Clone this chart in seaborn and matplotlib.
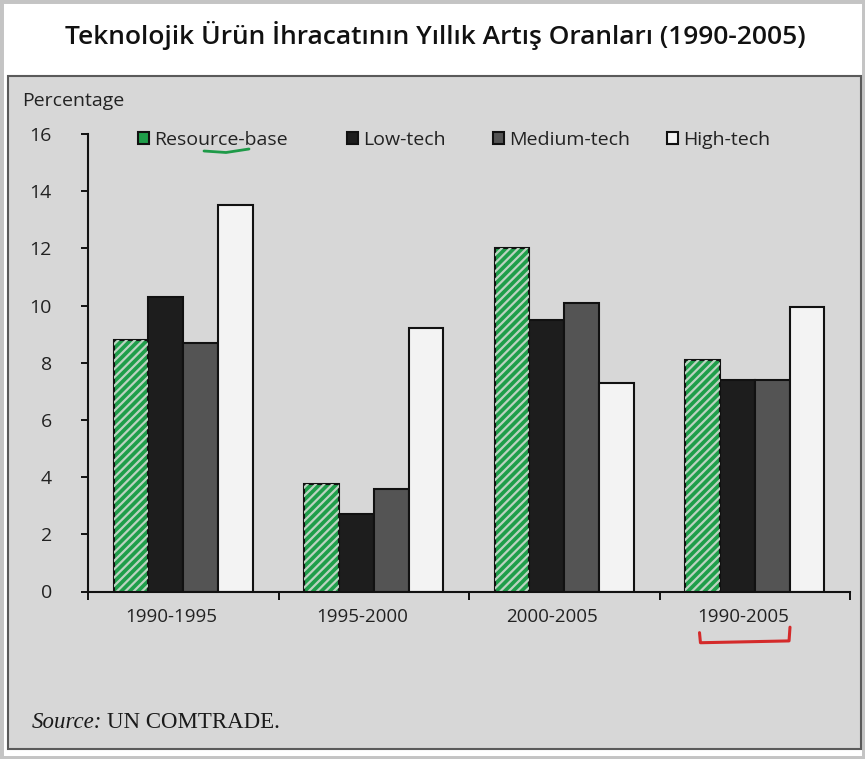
import matplotlib
matplotlib.use("Agg")
import matplotlib.pyplot as plt
from matplotlib.patches import Rectangle
from matplotlib.lines import Line2D
from matplotlib.legend import Legend
from matplotlib.transforms import ScaledTranslation, blended_transform_factory
import seaborn as sns
import pandas as pd

# Average annual growth of exports by technology class (%)
periods = ["1990-1995", "1995-2000", "2000-2005", "1990-2005"]
categories = ["Resource-base", "Low-tech", "Medium-tech", "High-tech"]
resource_base = [8.8, 3.75, 12.0, 8.1]
low_tech = [10.3, 2.7, 9.5, 7.4]
medium_tech = [8.7, 3.6, 10.1, 7.4]
high_tech = [13.5, 9.2, 7.3, 9.95]
y_ticks = [0, 2, 4, 6, 8, 10, 12, 14, 16]

title = "Teknolojik Ürün İhracatının Yıllık Artış Oranları (1990-2005)"

series = [resource_base, low_tech, medium_tech, high_tech]
df = pd.DataFrame(
    [(p, c, v) for c, vals in zip(categories, series) for p, v in zip(periods, vals)],
    columns=["period", "type", "value"],
)

sns.set_theme(style="white")
plt.rcParams["font.family"] = ["Open Sans", "DejaVu Sans"]
plt.rcParams["hatch.linewidth"] = 1.6

W, H = 865, 759
fig = plt.figure(figsize=(W / 100, H / 100), dpi=100, facecolor="white")

# card shadow around the page and the grey scanned panel
fig.patches.append(Rectangle((0, 0), 1, 1, transform=fig.transFigure, fill=False,
                             edgecolor="#c4c4c4", linewidth=5, zorder=-2))
fig.patches.append(Rectangle((8 / W, 1 - 749 / H), (861 - 8) / W, (749 - 76) / H,
                             transform=fig.transFigure, facecolor="#d7d7d7",
                             edgecolor="#5a5a5a", linewidth=1.5, zorder=-1))

ax = fig.add_axes([88 / W, 167.5 / H, (850 - 88) / W, (591.5 - 134) / H])
ax.set_facecolor("none")

palette = {"Resource-base": "#1f9e4a", "Low-tech": "#1d1d1d",
           "Medium-tech": "#545454", "High-tech": "#f3f3f3"}
sns.barplot(data=df, x="period", y="value", hue="type", order=periods,
            hue_order=categories, palette=palette, width=0.73, gap=0,
            edgecolor="#111111", linewidth=1.5, saturation=1, legend=False, ax=ax)

# pen-scribble look on the resource-based bars
for bar in ax.containers[0]:
    ax.add_patch(Rectangle(bar.get_xy(), bar.get_width(), bar.get_height(),
                           fill=False, hatch="////", edgecolor="#bcd3c1",
                           linewidth=0, zorder=bar.get_zorder() + 0.1))

ax.set_xlim(-0.5, 3.5)
ax.set_ylim(0, 16)
ax.set_yticks(y_ticks)
ax.set_xlabel("")
ax.set_ylabel("")
for s in ["top", "right"]:
    ax.spines[s].set_visible(False)
for s in ["left", "bottom"]:
    ax.spines[s].set_linewidth(1.5)
    ax.spines[s].set_color("#111111")

ax.tick_params(axis="y", direction="out", length=5, width=1.4, color="#111111",
               pad=21, labelsize=14, labelcolor="#222222", left=True)
ax.tick_params(axis="x", which="major", length=0, pad=12, labelsize=13.5,
               labelcolor="#222222")
ax.set_xticks([-0.5, 0.5, 1.5, 2.5, 3.5], minor=True)
ax.tick_params(axis="x", which="minor", direction="out", length=6, width=1.4,
               color="#111111", bottom=True)
for lbl in ax.get_xticklabels():
    lbl.set_transform(lbl.get_transform() + ScaledTranslation(-0.12, 0, fig.dpi_scale_trans))

# legend entries spread across the top of the plot
handles = [c.patches[0] for c in ax.containers[:4]]
legend_left = [138, 347, 493, 667]
for h, name, xl in zip(handles, categories, legend_left):
    leg = Legend(ax, [h], [name], loc="center left",
                 bbox_to_anchor=((xl - 88) / 762, (591.5 - 140) / 457.5),
                 frameon=False, fontsize=14, handlelength=0.55, handleheight=0.55,
                 handletextpad=0.3, borderpad=0, borderaxespad=0,
                 labelcolor="#222222")
    ax.add_artist(leg)

# hand-drawn marks on the page
fig.add_artist(Line2D([204 / W, 226 / W, 249 / W], [1 - 151 / H, 1 - 152.5 / H, 1 - 149 / H],
                      color="#1e9a48", linewidth=2, transform=fig.transFigure))
bt = blended_transform_factory(ax.transData, ax.transAxes)
ax.add_line(Line2D([2.71, 2.715, 3.18, 3.185], [-0.09, -0.112, -0.108, -0.078],
                   color="#d42a2a", linewidth=2.2, transform=bt, clip_on=False))

fig.text(22 / W, 1 - 101 / H, "Percentage", fontsize=14, color="#222222",
         va="center", ha="left")
fig.text(0.503, 1 - 35 / H, title, fontsize=19, fontweight="semibold",
         color="#111111", ha="center", va="center")

src = fig.text(32 / W, 1 - 722 / H, "Source:", fontsize=16.5, style="italic",
               family=["Liberation Serif", "DejaVu Serif"], color="#1a1a1a",
               va="center", ha="left")
fig.canvas.draw()
bb = src.get_window_extent()
fig.text(bb.x1 / W + 5 / W, 1 - 722 / H, "UN COMTRADE.", fontsize=16.5,
         family=["Liberation Serif", "DejaVu Serif"], color="#1a1a1a",
         va="center", ha="left")

fig.savefig("out.png", dpi=100, facecolor="white")
